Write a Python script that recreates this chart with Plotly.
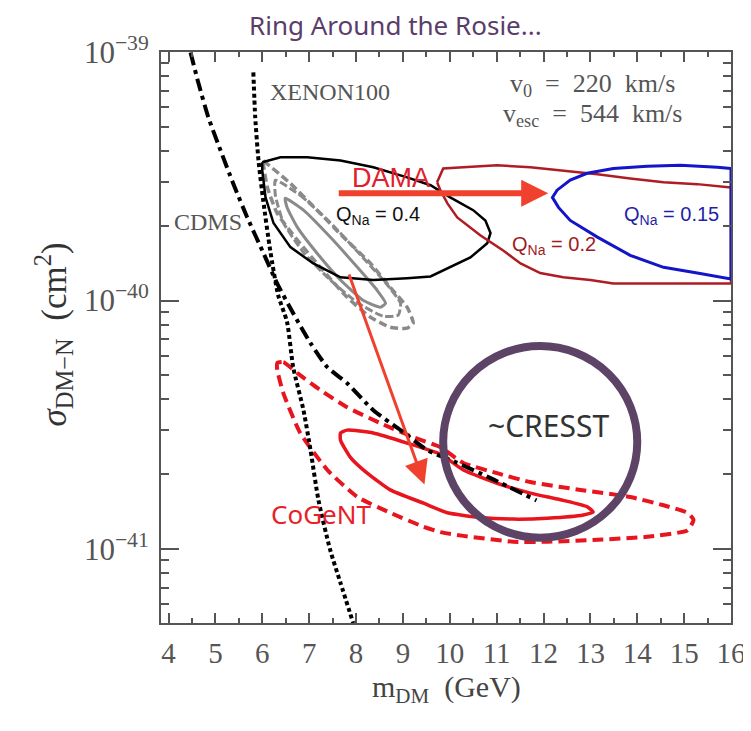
import numpy as np
import plotly.graph_objects as go

# ---------------- data ----------------
cdms_m = [4.47, 4.64, 4.85, 5.11, 5.38, 5.68, 6.00, 6.32, 6.66, 7.03, 7.39, 7.81, 8.37, 8.95, 9.52, 10.12, 10.87, 11.85]
cdms_s = [9.96e-40, 7.48e-40, 5.46e-40, 4.02e-40, 2.96e-40, 2.16e-40, 1.59e-40, 1.17e-40, 8.89e-41, 6.74e-41,
          5.39e-41, 4.65e-41, 3.62e-41, 3.01e-41, 2.50e-41, 2.24e-41, 1.93e-41, 1.57e-41]

xenon_m = [5.81, 5.85, 5.92, 6.02, 6.17, 6.34, 6.53, 6.66, 6.88, 7.03, 7.20, 7.45, 7.67, 7.94]
xenon_s = [8.28e-40, 5.46e-40, 3.66e-40, 2.53e-40, 1.59e-40, 1.05e-40, 8.18e-41, 5.39e-41, 3.62e-41, 2.50e-41,
           1.57e-41, 9.91e-42, 7.30e-42, 5.04e-42]

dama04_m = [6.00, 6.39, 6.96, 7.67, 8.37, 9.09, 9.59, 10.01, 10.50, 10.76, 10.87, 10.80, 10.44, 10.01, 9.59, 9.09,
            8.37, 7.67, 7.09, 6.60, 6.24, 6.07, 6.00, 6.00]
dama04_s = [3.60e-40, 3.77e-40, 3.77e-40, 3.66e-40, 3.44e-40, 3.13e-40, 2.91e-40, 2.60e-40, 2.31e-40, 2.10e-40,
            1.87e-40, 1.70e-40, 1.49e-40, 1.36e-40, 1.25e-40, 1.23e-40, 1.21e-40, 1.24e-40, 1.41e-40, 1.64e-40,
            2.05e-40, 2.60e-40, 3.34e-40, 3.60e-40]

gray_outer_m = [6.02, 6.60, 7.17, 7.73, 8.31, 8.73, 9.09, 9.22, 9.09, 8.73, 8.31, 7.81, 7.24, 6.75, 6.32, 6.11, 6.02]
gray_outer_s = [3.66e-40, 2.96e-40, 2.31e-40, 1.80e-40, 1.41e-40, 1.13e-40, 9.40e-41, 8.11e-41, 7.74e-41, 7.81e-41,
                8.57e-41, 1.03e-40, 1.36e-40, 1.75e-40, 2.24e-40, 2.85e-40, 3.56e-40]

gray_mid_m = [6.28, 6.81, 7.45, 8.05, 8.63, 8.95, 8.90, 8.58, 8.05, 7.45, 6.88, 6.45, 6.28, 6.28]
gray_mid_s = [3.05e-40, 2.65e-40, 2.06e-40, 1.56e-40, 1.18e-40, 9.75e-41, 8.73e-41, 8.65e-41, 9.75e-41, 1.21e-40,
              1.56e-40, 2.06e-40, 2.65e-40, 3.05e-40]

gray_inner_m = [6.49, 6.88, 7.45, 8.03, 8.45, 8.63, 8.52, 8.16, 7.67, 7.17, 6.75, 6.53, 6.49]
gray_inner_s = [2.58e-40, 2.31e-40, 1.80e-40, 1.36e-40, 1.10e-40, 9.75e-41, 9.40e-41, 1.00e-40, 1.21e-40, 1.55e-40,
                1.97e-40, 2.37e-40, 2.58e-40]

dama02_m = [9.73, 9.80, 9.86, 10.29, 11.01, 11.72, 12.42, 13.15, 13.85, 14.56, 15.28, 16.0, 16.0, 13.49, 13.00,
            12.42, 11.93, 11.51, 11.14, 10.65, 10.16, 9.95, 9.80, 9.73]
dama02_s = [2.99e-40, 3.19e-40, 3.40e-40, 3.44e-40, 3.50e-40, 3.44e-40, 3.34e-40, 3.22e-40, 3.10e-40, 2.99e-40,
            2.94e-40, 2.85e-40, 1.17e-40, 1.17e-40, 1.21e-40, 1.24e-40, 1.29e-40, 1.41e-40, 1.59e-40, 1.83e-40,
            2.16e-40, 2.46e-40, 2.78e-40, 2.99e-40]

dama015_m = [16.0, 15.71, 14.92, 14.21, 13.49, 12.93, 12.57, 12.29, 12.19, 12.32, 12.57, 13.15, 13.85, 14.56, 15.28,
             16.0, 16.0]
dama015_s = [3.40e-40, 3.44e-40, 3.50e-40, 3.47e-40, 3.40e-40, 3.25e-40, 3.05e-40, 2.78e-40, 2.60e-40, 2.37e-40,
             2.10e-40, 1.80e-40, 1.52e-40, 1.36e-40, 1.29e-40, 1.22e-40, 3.40e-40]

cogent_in_m = [7.67, 7.81, 8.37, 9.09, 9.80, 10.29, 11.01, 11.72, 12.42, 12.93, 13.06, 12.85, 12.08, 11.36, 10.65,
               9.95, 9.44, 8.73, 8.24, 7.88, 7.67, 7.67]
cogent_in_s = [2.93e-41, 3.01e-41, 2.93e-41, 2.67e-41, 2.41e-41, 2.08e-41, 1.84e-41, 1.68e-41, 1.57e-41, 1.48e-41,
               1.41e-41, 1.37e-41, 1.33e-41, 1.32e-41, 1.34e-41, 1.40e-41, 1.53e-41, 1.73e-41, 2.02e-41, 2.34e-41,
               2.74e-41, 2.93e-41]

cogent_out_m = [6.32, 6.45, 6.75, 7.24, 7.81, 8.52, 9.22, 9.80, 10.29, 11.01, 11.72, 12.79, 13.85, 14.56, 15.07,
                15.20, 15.07, 14.21, 13.15, 12.08, 11.36, 10.29, 9.80, 9.44, 8.73, 8.03, 7.39, 6.81, 6.45, 6.32, 6.32]
cogent_out_s = [5.60e-41, 5.65e-41, 5.10e-41, 4.36e-41, 3.72e-41, 3.21e-41, 2.82e-41, 2.57e-41, 2.22e-41, 2.02e-41,
                1.86e-41, 1.73e-41, 1.62e-41, 1.50e-41, 1.40e-41, 1.31e-41, 1.19e-41, 1.12e-41, 1.09e-41, 1.07e-41,
                1.07e-41, 1.13e-41, 1.17e-41, 1.23e-41, 1.40e-41, 1.62e-41, 2.08e-41, 2.93e-41, 4.24e-41, 5.25e-41,
                5.60e-41]

# CRESST ring: bounding box (mass, sigma)
cresst_m = [9.86, 14.00]
cresst_s = [1.11e-41, 6.56e-41]

# arrows: tail -> head
arrow_h_m = [7.60, 12.10]
arrow_h_s = [2.70e-40, 2.70e-40]
arrow_d_m = [7.84, 9.46]
arrow_d_s = [1.29e-40, 1.82e-41]

x_ticks = list(range(4, 17))
y_ticks = [1e-41, 1e-40, 1e-39]
y_ticktext = ["10<sup>\u221241</sup>", "10<sup>\u221240</sup>", "10<sup>\u221239</sup>"]

# ---------------- figure ----------------
fig = go.Figure()

def add_line(xs, ys, color, width, dash="solid", shape="linear", smoothing=0.0):
    line = dict(color=color, width=width, dash=dash, shape=shape)
    if shape == "spline":
        line["smoothing"] = smoothing
    fig.add_trace(go.Scatter(x=xs, y=ys, mode="lines", line=line, hoverinfo="skip", showlegend=False))

add_line(gray_outer_m, gray_outer_s, "#8a8a8a", 3.5, "8px,4px", "spline", 0.5)
add_line(gray_mid_m, gray_mid_s, "#8a8a8a", 3.0, "8px,3px", "spline", 0.5)
add_line(gray_inner_m, gray_inner_s, "#8a8a8a", 3.0, "solid", "spline", 0.5)
add_line(dama04_m, dama04_s, "#000000", 2.5)
add_line(dama02_m, dama02_s, "#b01c24", 2.5)
add_line(dama015_m, dama015_s, "#1414c8", 3.0)
add_line(cogent_out_m, cogent_out_s, "#e8141e", 4.0, "11px,6px", "spline", 0.5)
add_line(cogent_in_m, cogent_in_s, "#e8141e", 3.5, "solid", "spline", 0.5)
add_line(cdms_m, cdms_s, "#000000", 4.0, "13px,5px,4px,5px", "spline", 0.6)
add_line(xenon_m, xenon_s, "#000000", 4.0, "4px,3px", "spline", 0.6)

fig.add_shape(type="circle", xref="x", yref="y",
              x0=cresst_m[0], x1=cresst_m[1], y0=cresst_s[0], y1=cresst_s[1],
              line=dict(color="#5d4466", width=8), layer="above")

arrow_color = "#f0412e"
fig.add_annotation(x=arrow_h_m[1], y=np.log10(arrow_h_s[1]), ax=arrow_h_m[0], ay=np.log10(arrow_h_s[0]),
                   xref="x", yref="y", axref="x", ayref="y", text="", showarrow=True,
                   arrowhead=2, arrowsize=0.9, arrowwidth=6, arrowcolor=arrow_color, standoff=0)
fig.add_annotation(x=arrow_d_m[1], y=np.log10(arrow_d_s[1]), ax=arrow_d_m[0], ay=np.log10(arrow_d_s[0]),
                   xref="x", yref="y", axref="x", ayref="y", text="", showarrow=True,
                   arrowhead=2, arrowsize=1.6, arrowwidth=3, arrowcolor=arrow_color, standoff=0)

serif = "Liberation Serif"
sans = "Liberation Sans"
round_font = "Noto Sans"

def label(text, xm, ys, color, size, family, xanchor="left"):
    fig.add_annotation(x=xm, y=np.log10(ys), xref="x", yref="y", text=text, showarrow=False,
                       xanchor=xanchor, yanchor="middle", font=dict(color=color, size=size, family=family))

label("XENON100", 6.13, 6.89e-40, "#555555", 24, serif)
label("CDMS", 4.08, 2.07e-40, "#555555", 24, serif)
label("DAMA", 7.88, 3.10e-40, "#e0202e", 27, sans)
label("Q<sub>Na</sub> = 0.4", 7.54, 2.20e-40, "#111111", 20, sans)
label("Q<sub>Na</sub> = 0.2", 11.29, 1.66e-40, "#a01a22", 20, sans)
label("Q<sub>Na</sub> = 0.15", 13.68, 2.20e-40, "#1f1fa8", 20, sans)
label("~CRESST", 12.10, 3.15e-41, "#333333", 30, round_font, "center")
label("CoGeNT", 7.26, 1.38e-41, "#e8202a", 26, round_font, "center")

fig.add_annotation(x=0.757, y=0.9415, xref="paper", yref="paper", showarrow=False, xanchor="center",
                   yanchor="middle", text="v<sub>0</sub>\u00a0 =\u00a0 220\u00a0 km/s",
                   font=dict(color="#555555", size=26, family=serif))
fig.add_annotation(x=0.757, y=0.889, xref="paper", yref="paper", showarrow=False, xanchor="center",
                   yanchor="middle", text="v<sub>esc</sub>\u00a0 =\u00a0 544\u00a0 km/s",
                   font=dict(color="#555555", size=26, family=serif))

# title
fig.add_annotation(x=0.411, y=1.048, xref="paper", yref="paper", showarrow=False, xanchor="center",
                   yanchor="middle", text="Ring Around the Rosie...", borderpad=0,
                   font=dict(color="#5a3d6a", size=26, family=round_font))
# axis titles
fig.add_annotation(x=-0.188, y=0.505, xref="paper", yref="paper", showarrow=False, textangle=-90,
                   xanchor="center", yanchor="middle",
                   text="<i>\u03c3</i><sub>DM\u2212N</sub>\u00a0 (cm<sup>2</sup>)",
                   font=dict(color="#333333", size=35, family=serif))
fig.add_annotation(x=0.5, y=-0.115, xref="paper", yref="paper", showarrow=False, xanchor="center",
                   yanchor="middle", text="m<sub>DM</sub>\u00a0 (GeV)",
                   font=dict(color="#444444", size=30, family=serif))

axis_color = "#555555"
fig.update_xaxes(range=[3.84, 16.0], tickvals=x_ticks, ticks="inside", ticklen=10, tickwidth=1.5,
                 tickcolor=axis_color, showline=True, linecolor=axis_color, linewidth=2, mirror="ticks",
                 showgrid=False, zeroline=False, ticklabelstandoff=3,
                 tickfont=dict(family=serif, size=29, color="#555555"),
                 minor=dict(tickvals=[v + 0.5 for v in x_ticks[:-1]], ticks="inside", ticklen=5,
                            tickwidth=1.5, tickcolor=axis_color, showgrid=False))
minor_y = [m * 10.0 ** e for e in (-42, -41, -40) for m in range(2, 10)]
fig.update_yaxes(type="log", range=[-41.2975, -39.0], tickvals=y_ticks, ticktext=y_ticktext, ticks="inside",
                 ticklen=18, tickwidth=1.5, tickcolor=axis_color, showline=True, linecolor=axis_color,
                 linewidth=2, mirror="ticks", showgrid=False, zeroline=False, ticklabelstandoff=4,
                 tickfont=dict(family=serif, size=31, color="#555555"),
                 minor=dict(tickvals=minor_y, ticks="inside", ticklen=8, tickwidth=1.5,
                            tickcolor=axis_color, showgrid=False))

# the page places the figure 8px from the top-left corner
fig.update_layout(width=743, height=723, margin=dict(l=153, r=20, t=44, b=108, autoexpand=False),
                  plot_bgcolor="white", paper_bgcolor="white", showlegend=False)

fig.write_html("out.html")
